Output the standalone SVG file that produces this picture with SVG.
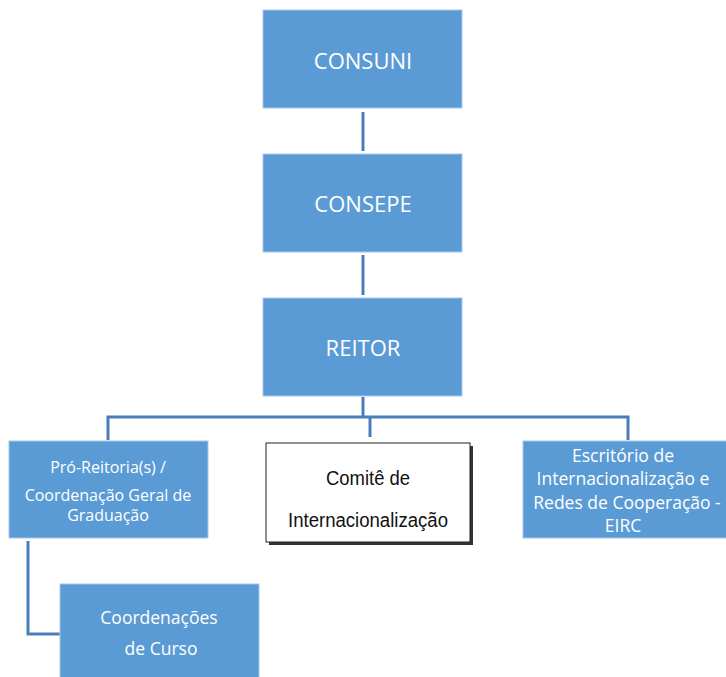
<svg xmlns="http://www.w3.org/2000/svg" width="726" height="677" viewBox="0 0 726 677">
<style>
.box{fill:#5B9BD5;stroke:#a9c6e8;stroke-width:1}
.lbl{font-family:"Open Sans","Liberation Sans",sans-serif;fill:#fff;text-anchor:middle;dominant-baseline:central}
.big{font-size:22px}
.med{font-size:17.5px}
.sm{font-size:16px}
.conn{stroke:#4A7EBB;stroke-width:3;fill:none}
.cm{font-family:"Liberation Sans Narrow","Liberation Sans",sans-serif;font-size:20px;fill:#111;text-anchor:middle;dominant-baseline:central}
</style>
<rect width="726" height="677" fill="#fff"/>
<g id="connectors">
<line class="conn" x1="363" y1="112" x2="363" y2="151"/>
<line class="conn" x1="363" y1="255" x2="363" y2="295"/>
<path class="conn" d="M363 397 V417"/>
<path class="conn" d="M108 440 V417 H628 V440"/>
<path class="conn" d="M370 417 V437"/>
<path class="conn" d="M28 541 V634 H60"/>
</g>
<g id="consuni"><rect class="box" x="263" y="10" width="199" height="98"/><text class="lbl big" x="363" y="60">CONSUNI</text></g>
<g id="consepe"><rect class="box" x="263" y="154" width="199" height="98"/><text class="lbl big" x="363" y="203">CONSEPE</text></g>
<g id="reitor"><rect class="box" x="263" y="298" width="199" height="98"/><text class="lbl big" x="363" y="347">REITOR</text></g>
<g id="pro-reitoria"><rect class="box" x="9" y="441" width="199" height="97"/>
<text class="lbl sm" x="108" y="467">Pró-Reitoria(s) /</text>
<text class="lbl sm" x="108" y="495">Coordenação Geral de</text>
<text class="lbl sm" x="108" y="515">Graduação</text></g>
<g id="comite"><rect x="269" y="446" width="204" height="99" fill="#333"/><rect x="266" y="443" width="204" height="99" fill="#fff" stroke="#222" stroke-width="1"/>
<text class="cm" x="368" y="478" textLength="84" lengthAdjust="spacingAndGlyphs">Comitê de</text>
<text class="cm" x="368" y="520" textLength="160" lengthAdjust="spacingAndGlyphs">Internacionalização</text></g>
<g id="escritorio"><rect class="box" x="523" y="441" width="210" height="97"/>
<text class="lbl med" x="623" y="455">Escritório de</text>
<text class="lbl med" x="623" y="478">Internacionalização e</text>
<text class="lbl med" x="627" y="502">Redes de Cooperação -</text>
<text class="lbl med" x="623" y="525">EIRC</text></g>
<g id="coordenacoes"><rect class="box" x="60" y="584" width="199" height="100"/>
<text class="lbl med" x="159" y="617">Coordenações</text>
<text class="lbl med" x="161" y="648">de Curso</text></g>
</svg>
